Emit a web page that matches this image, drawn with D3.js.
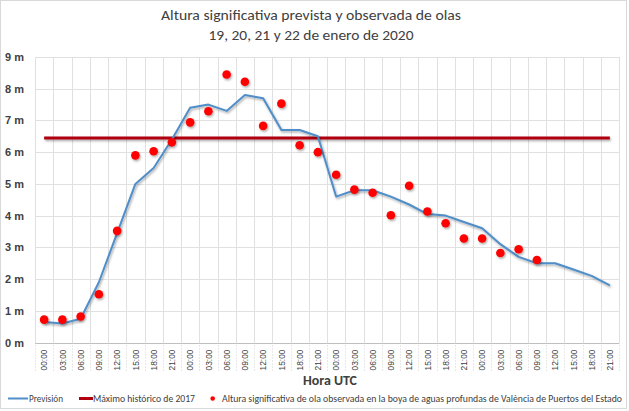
<!DOCTYPE html>
<html>
<head>
<meta charset="utf-8">
<script src="https://cdn.jsdelivr.net/npm/d3@7"></script>
<style>
  html, body { margin: 0; padding: 0; background: #fff; }
  svg { display: block; font-family: Carlito, Calibri, Lato, sans-serif; }
</style>
</head>
<body>
<svg id="chart" width="629" height="411"></svg>
<script>
// data
const days = ["19", "20", "21", "22"];
const hourLabels = ["00:00", "03:00", "06:00", "09:00", "12:00", "15:00", "18:00", "21:00"];
const categories = days.flatMap(d => hourLabels.map(h => d + " " + h));

const forecast = [0.65, 0.6, 0.75, 1.9, 3.45, 5.0, 5.5, 6.4, 7.4, 7.5, 7.3, 7.8, 7.7, 6.7, 6.7, 6.5,
                  4.6, 4.8, 4.8, 4.6, 4.35, 4.05, 4.0, 3.8, 3.6, 3.1, 2.7, 2.5, 2.5, 2.3, 2.1, 1.8];
const observed = [0.72, 0.72, 0.82, 1.52, 3.52, 5.9, 6.03, 6.31, 6.94, 7.29, 8.45, 8.22, 6.83, 7.53, 6.22, 6.0,
                  5.29, 4.82, 4.72, 4.01, 4.94, 4.13, 3.76, 3.28, 3.28, 2.82, 2.94, 2.6];
const maxHistorico = 6.45;
const yTicks = [0, 1, 2, 3, 4, 5, 6, 7, 8, 9];

const titleLines = ["Altura significativa prevista y observada de olas", "19, 20, 21 y 22 de enero de 2020"];
const legendLabels = ["Previsión", "Máximo histórico de 2017",
  "Altura significativa de ola observada en la boya de aguas profundas de València de Puertos del Estado"];

const svg = d3.select("#chart");
const margin = { top: 57, right: 10, bottom: 68.5, left: 35 };
const width = 629, height = 411;

const x = d3.scaleBand().domain(categories).range([margin.left, width - margin.right]).padding(0);
const y = d3.scaleLinear().domain([0, 9]).range([height - margin.bottom, margin.top]);

const defs = svg.append("defs");
// user space filter so the flat horizontal line keeps its area
const f = defs.append("filter").attr("id", "shadow").attr("filterUnits", "userSpaceOnUse")
  .attr("x", 0).attr("y", 0).attr("width", width).attr("height", height);
f.append("feDropShadow").attr("dx", 1).attr("dy", 1.5).attr("stdDeviation", 0.8)
  .attr("flood-color", "#000").attr("flood-opacity", 0.35);

// chart frame
svg.append("rect").attr("x", 0.5).attr("y", 0.5).attr("width", width - 3).attr("height", height - 3)
  .attr("fill", "#fff").attr("stroke", "#d9d9d9");

// horizontal gridlines
svg.append("g").selectAll("line").data(yTicks).join("line")
  .attr("x1", x.range()[0]).attr("x2", x.range()[1])
  .attr("y1", d => Math.round(y(d)) + 0.5).attr("y2", d => Math.round(y(d)) + 0.5)
  .attr("stroke", d => d === 0 ? "#bfbfbf" : "#e0e0e0");

// vertical gridlines at category boundaries
const bounds = categories.map(c => x(c)).concat([x.range()[1]]);
svg.append("g").selectAll("line").data(bounds).join("line")
  .attr("x1", d => Math.round(d) + 0.5).attr("x2", d => Math.round(d) + 0.5)
  .attr("y1", y(9)).attr("y2", y(0))
  .attr("stroke", "#e0e0e0");
svg.append("g").selectAll("line").data(bounds).join("line")
  .attr("x1", d => Math.round(d) + 0.5).attr("x2", d => Math.round(d) + 0.5)
  .attr("y1", y(0)).attr("y2", y(0) + 28)
  .attr("stroke", "#d0d0d0").attr("stroke-dasharray", "1,2");

// y axis
const yAxis = svg.append("g").attr("transform", `translate(${margin.left},0)`)
  .call(d3.axisLeft(y).tickValues(yTicks).tickSize(0).tickPadding(11).tickFormat(d => d + " m"));
yAxis.select(".domain").remove();
yAxis.selectAll("text").attr("fill", "#404040").style("font-size", "11px").style("font-weight", "bold");

// x axis
const xAxis = svg.append("g").attr("transform", `translate(0,${y(0)})`)
  .call(d3.axisBottom(x).tickSize(0).tickFormat(d => d.split(" ")[1]));
xAxis.select(".domain").remove();
xAxis.selectAll("text")
  .attr("transform", "rotate(-90)")
  .attr("text-anchor", "end")
  .attr("x", -7).attr("y", 0).attr("dy", "0.35em")
  .attr("fill", "#404040").style("font-size", "9px")
  .attr("textLength", 21).attr("lengthAdjust", "spacingAndGlyphs");

// max historico line
svg.append("line")
  .attr("x1", x(categories[0]) + x.bandwidth() / 2)
  .attr("x2", x(categories[categories.length - 1]) + x.bandwidth() / 2)
  .attr("y1", y(maxHistorico)).attr("y2", y(maxHistorico))
  .attr("stroke", "#b00010").attr("stroke-width", 3).attr("filter", "url(#shadow)");

// forecast line
const line = d3.line().x((d, i) => x(categories[i]) + x.bandwidth() / 2).y(d => y(d));
svg.append("path").datum(forecast)
  .attr("d", line).attr("fill", "none")
  .attr("stroke", "#4f8ec9").attr("stroke-width", 2).attr("stroke-linejoin", "round")
  .attr("filter", "url(#shadow)");

// observed points
svg.append("g").selectAll("circle").data(observed).join("circle")
  .attr("cx", (d, i) => x(categories[i]) + x.bandwidth() / 2)
  .attr("cy", d => y(d)).attr("r", 4.3)
  .attr("fill", "#ff0000").attr("filter", "url(#shadow)");

// title
svg.append("text").attr("x", 311).attr("y", 20).attr("text-anchor", "middle")
  .attr("fill", "#404040").style("font-size", "14px")
  .attr("textLength", 300).attr("lengthAdjust", "spacingAndGlyphs").text(titleLines[0]);
svg.append("text").attr("x", 311).attr("y", 40).attr("text-anchor", "middle")
  .attr("fill", "#404040").style("font-size", "14px")
  .attr("textLength", 205).attr("lengthAdjust", "spacingAndGlyphs").text(titleLines[1]);

// x axis title
svg.append("text").attr("x", 330).attr("y", 385).attr("text-anchor", "middle")
  .attr("fill", "#404040").style("font-size", "13px").style("font-weight", "bold")
  .attr("textLength", 54).attr("lengthAdjust", "spacingAndGlyphs").text("Hora UTC");

// legend
const leg = svg.append("g");
const ly = 398.5;
leg.append("line").attr("x1", 8).attr("x2", 28).attr("y1", ly).attr("y2", ly)
  .attr("stroke", "#4f8ec9").attr("stroke-width", 2);
leg.append("text").attr("x", 29).attr("y", ly + 3).attr("fill", "#404040").style("font-size", "9.5px")
  .attr("textLength", 34).attr("lengthAdjust", "spacingAndGlyphs").text(legendLabels[0]);
leg.append("line").attr("x1", 79).attr("x2", 93).attr("y1", ly).attr("y2", ly)
  .attr("stroke", "#b00010").attr("stroke-width", 3);
leg.append("text").attr("x", 93).attr("y", ly + 3).attr("fill", "#404040").style("font-size", "9.5px")
  .attr("textLength", 102).attr("lengthAdjust", "spacingAndGlyphs").text(legendLabels[1]);
leg.append("circle").attr("cx", 212.7).attr("cy", ly).attr("r", 2.3).attr("fill", "#ff0000");
leg.append("text").attr("x", 222).attr("y", ly + 3).attr("fill", "#404040").style("font-size", "9.5px")
  .attr("textLength", 400).attr("lengthAdjust", "spacingAndGlyphs").text(legendLabels[2]);
</script>
</body>
</html>
